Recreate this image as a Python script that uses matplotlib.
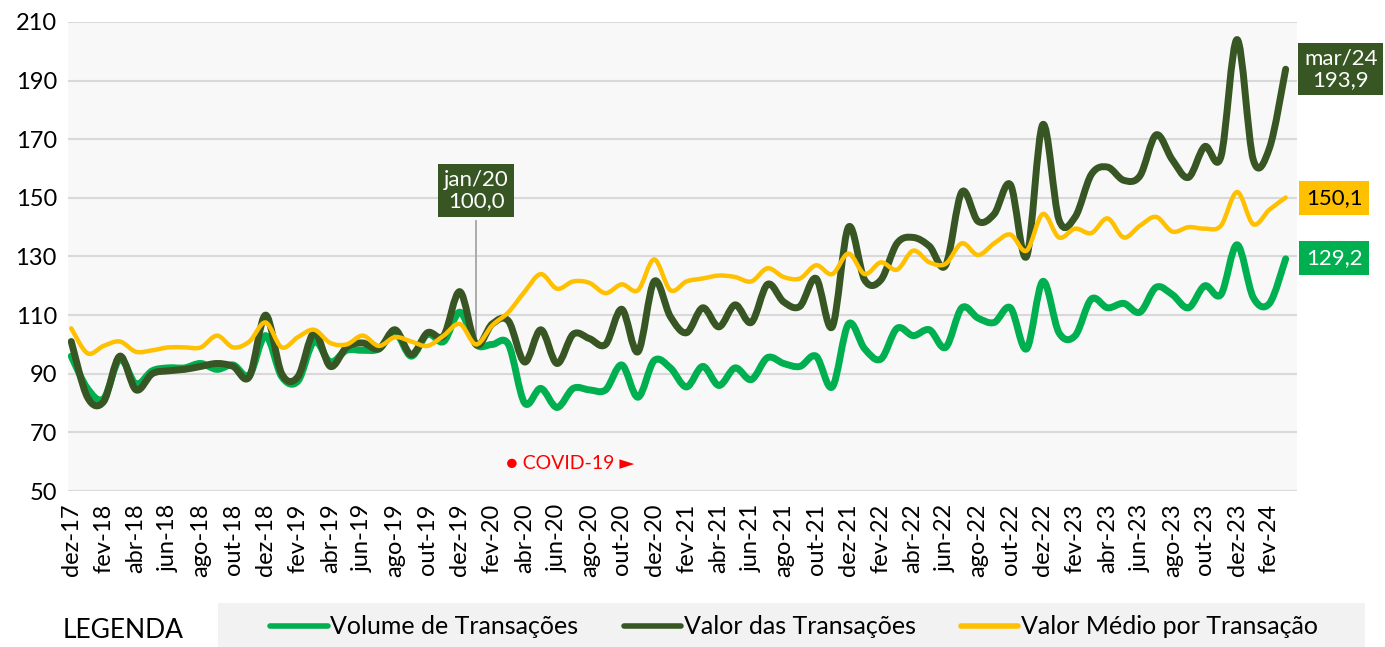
import numpy as np
import matplotlib.pyplot as plt
from matplotlib.path import Path
from matplotlib.patches import PathPatch, Rectangle
from matplotlib.lines import Line2D

plt.rcParams['font.family'] = ['Lato', 'DejaVu Sans']

# índices mensais de dez-17 a mar-24 (jan/20 = 100)
tick_labels = ['dez-17', 'fev-18', 'abr-18', 'jun-18', 'ago-18', 'out-18',
               'dez-18', 'fev-19', 'abr-19', 'jun-19', 'ago-19', 'out-19',
               'dez-19', 'fev-20', 'abr-20', 'jun-20', 'ago-20', 'out-20',
               'dez-20', 'fev-21', 'abr-21', 'jun-21', 'ago-21', 'out-21',
               'dez-21', 'fev-22', 'abr-22', 'jun-22', 'ago-22', 'out-22',
               'dez-22', 'fev-23', 'abr-23', 'jun-23', 'ago-23', 'out-23',
               'dez-23', 'fev-24']

volume = [96, 85, 81.5, 95, 86.5, 91, 92, 92, 93.5, 91.5, 93, 89.5,
          103, 89, 87.5, 101, 94, 98, 98, 98.5, 104, 96, 103.5, 101,
          111, 100, 100, 100, 80, 85, 78.5, 85, 84.5, 84.5, 93, 82,
          94.5, 92, 85.5, 92.5, 86, 92, 88, 95.5, 93.5, 92.5, 96, 85.5,
          107, 98.5, 95, 105.5, 103, 105, 99, 112.5, 109, 107.5, 112.5, 98.5,
          121.5, 104, 103, 115.5, 112.5, 114, 111, 119.5, 117, 112.5, 120, 117,
          134, 116, 114, 129.2]

valor = [101, 82, 80.5, 96, 84.5, 90, 91, 91.5, 92.5, 93.5, 92.5, 89,
         110, 90, 89, 104, 92.5, 99, 100.5, 98.5, 105, 96.5, 104, 103,
         118, 100, 107, 108, 94, 105, 93.5, 103.5, 102, 100, 112, 97.5,
         121.5, 109.5, 104, 112.5, 106, 113.5, 107.5, 120.5, 114.5, 113, 122.5, 106,
         140, 122, 122, 134.5, 136.5, 133.5, 127, 152, 142, 144.5, 154.5, 130,
         175, 142.5, 143.5, 158, 160.5, 156, 157.5, 171.5, 163, 157, 167.5, 164,
         204, 163, 167, 193.9]

medio = [105.5, 97, 99.5, 101, 97.5, 98, 99, 99, 99, 103, 99, 101,
         107.5, 99, 102.5, 105, 100.5, 100, 103, 99.5, 102.5, 101, 99.5, 103,
         107, 100, 106.5, 111, 118, 124, 119, 121.5, 121, 117.5, 120.5, 118.5,
         129, 118.5, 121.5, 122.5, 123.5, 123, 121.5, 126, 123, 122.5, 127, 124,
         131, 124, 128, 125.5, 132, 128, 127.5, 134.5, 130.5, 134.5, 137.5, 132,
         144.5, 136.5, 139.5, 138, 143, 136.5, 140.5, 143.5, 138.5, 140, 139.5, 140.5,
         152, 141, 146, 150.1]

VERDE = '#00b050'
ESCURO = '#375623'
AMARELO = '#ffc000'


def curva_suave(x, y):
    # linha suavizada (bezier tipo Excel) passando pelos pontos
    x = np.asarray(x, float)
    y = np.asarray(y, float)
    pts = np.column_stack([x, y])
    pad = np.vstack([pts[0], pts, pts[-1]])
    verts = [tuple(pts[0])]
    codes = [Path.MOVETO]
    for k in range(len(pts) - 1):
        p0, p1, p2, p3 = pad[k], pad[k + 1], pad[k + 2], pad[k + 3]
        c1 = p1 + (p2 - p0) / 6
        c2 = p2 - (p3 - p1) / 6
        verts += [tuple(c1), tuple(c2), tuple(p2)]
        codes += [Path.CURVE4] * 3
    return Path(verts, codes)


fig = plt.figure(figsize=(13.85, 6.47), dpi=100)
ax = fig.add_axes([68 / 1385, 1 - 491 / 647, (1297 - 68) / 1385, 469 / 647])
ax.set_facecolor('#f8f8f8')

x = np.arange(len(valor))
series = [(volume, VERDE, 5.0), (valor, ESCURO, 5.0), (medio, AMARELO, 3.2)]
for z, (vals, cor, lw) in enumerate(series):
    ax.add_patch(PathPatch(curva_suave(x, vals), facecolor='none', edgecolor=cor,
                           lw=lw, capstyle='round', joinstyle='round', zorder=3 + z))

ax.set_xlim(-0.2, 75.7)
ax.set_ylim(50, 210)
ax.set_yticks(np.arange(50, 211, 20))
ax.set_xticks(x[::2])
ax.set_xticklabels(tick_labels, rotation=90)
ax.tick_params(axis='y', length=0, pad=8, labelsize=17)
ax.tick_params(axis='x', length=0, pad=9, labelsize=17)
ax.grid(axis='y', color='#d9d9d9', lw=1.5, zorder=0)
ax.set_axisbelow(True)
for s in ax.spines.values():
    s.set_visible(False)

# marcador jan/20
ax.plot([25, 25], [100, 142], color='#a6a6a6', lw=1.3, zorder=2)
ax.text(25, 152.5, 'jan/20\n100,0', ha='center', va='center', color='white', fontsize=16,
        linespacing=1.1, bbox=dict(boxstyle='square,pad=0.25', fc=ESCURO, ec='none'), zorder=6)

# rótulos finais
ax.text(78.4, 194, 'mar/24\n193,9', ha='center', va='center', color='white', fontsize=16,
        linespacing=1.1, bbox=dict(boxstyle='square,pad=0.25', fc=ESCURO, ec='none'), clip_on=False)
ax.text(78.0, 150, '150,1', ha='center', va='center', color='black', fontsize=16,
        bbox=dict(boxstyle='square,pad=0.3', fc=AMARELO, ec='none'), clip_on=False)
ax.text(78.0, 129.5, '129,2', ha='center', va='center', color='white', fontsize=16,
        bbox=dict(boxstyle='square,pad=0.3', fc=VERDE, ec='none'), clip_on=False)

ax.text(30.8, 59.5, '● COVID-19 ►', ha='center', va='center', color='#ff0000', fontsize=14)

# legenda
fig.patches.append(Rectangle((218 / 1385, 0), (1365 - 218) / 1385, 44 / 647,
                             transform=fig.transFigure, fc='#f2f2f2', ec='none', zorder=0))
fig.text(63 / 1385, 1 - 630 / 647, 'LEGENDA', ha='left', va='center', fontsize=19)
handles = [Line2D([], [], color=VERDE, lw=4, solid_capstyle='round'),
           Line2D([], [], color=ESCURO, lw=4, solid_capstyle='round'),
           Line2D([], [], color=AMARELO, lw=4, solid_capstyle='round')]
fig.legend(handles, ['Volume de Transações', 'Valor das Transações', 'Valor Médio por Transação'],
           loc='center', bbox_to_anchor=(794 / 1385, 1 - 627 / 647), ncol=3, frameon=False,
           fontsize=18, handlelength=2.3, handletextpad=0.1, columnspacing=1.8)

fig.savefig('out.png', dpi=100)
